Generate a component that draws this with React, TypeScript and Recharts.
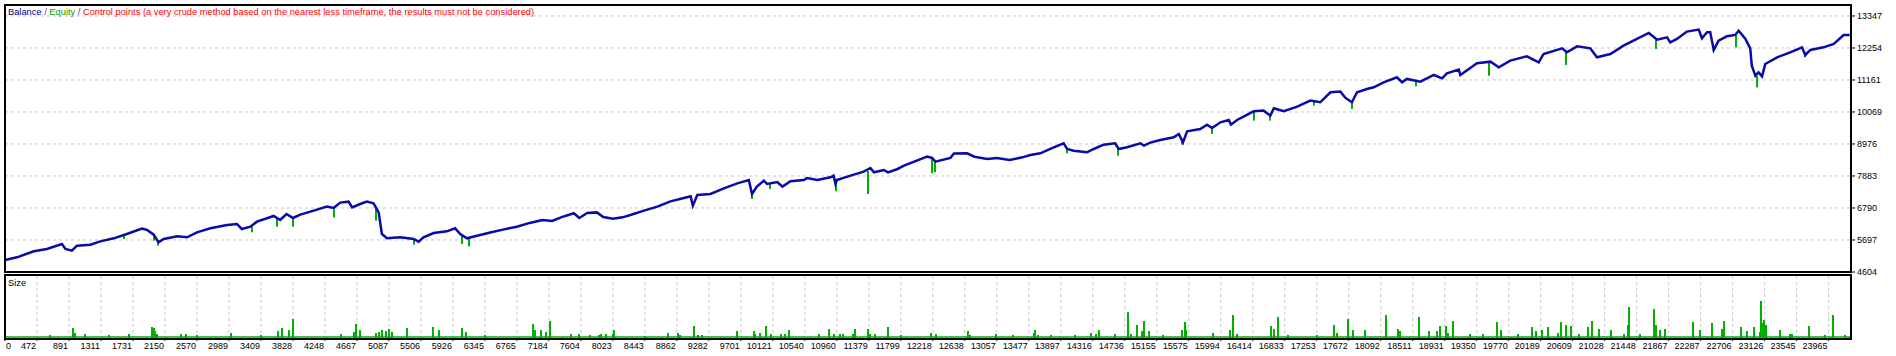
import React from "react";
import {
  ComposedChart,
  Line,
  Bar,
  XAxis,
  YAxis,
  CartesianGrid,
  ReferenceLine,
} from "recharts";

// x positions are in grid steps (one step per tick label)
const X_LABELS = [
  "0", "472", "891", "1311", "1731", "2150", "2570", "2989", "3409", "3828",
  "4248", "4667", "5087", "5506", "5926", "6345", "6765", "7184", "7604", "8023",
  "8443", "8862", "9282", "9701", "10121", "10540", "10960", "11379", "11799", "12218",
  "12638", "13057", "13477", "13897", "14316", "14736", "15155", "15575", "15994", "16414",
  "16833", "17253", "17672", "18092", "18511", "18931", "19350", "19770", "20189", "20609",
  "21028", "21448", "21867", "22287", "22706", "23126", "23545", "23965",
];
const Y_TICKS = [4604, 5697, 6790, 7883, 8976, 10069, 11161, 12254, 13347];
const X_MAX = 57.7;
const Y_MIN = 4604;
const Y_MAX = 13722;

const BALANCE_U = [
  0, 0.375, 0.9, 1.31, 1.78, 1.89, 2.09, 2.25, 2.67, 2.98, 3.4, 3.81, 4.28, 4.44, 4.65, 4.8,
  4.96, 5.38, 5.69, 6.0, 6.42, 6.94, 7.25, 7.4, 7.67, 7.875, 8.4, 8.6, 8.8, 9.0, 9.23, 9.65,
  10.06, 10.27, 10.48, 10.74, 10.85, 11.1, 11.31, 11.52, 11.68, 11.78, 11.94, 12.35, 12.77,
  12.93, 13.08, 13.4, 13.81, 14.07, 14.23, 14.44, 14.85, 15.2, 15.6, 16.0, 16.4, 16.8, 17.1,
  17.4, 17.78, 17.95, 18.2, 18.5, 18.7, 19.0, 19.3, 19.55, 19.97, 20.39, 20.8, 21.22, 21.43,
  21.5, 21.64, 22.05, 22.47, 22.89, 23.25, 23.35, 23.5, 23.72, 23.82, 24.14, 24.3, 24.55,
  24.97, 25.07, 25.39, 25.8, 25.9, 25.96, 26.0, 26.43, 26.84, 27.05, 27.16, 27.47, 27.6,
  27.9, 28.1, 28.5, 28.82, 28.98, 29.08, 29.55, 29.66, 30.07, 30.3, 30.7, 31.0, 31.4, 31.8,
  32.05, 32.36, 32.78, 33.09, 33.2, 33.4, 33.82, 34.03, 34.34, 34.7, 34.81, 35.07, 35.49,
  35.6, 35.8, 36.11, 36.53, 36.69, 36.82, 36.95, 37.36, 37.57, 37.73, 37.99, 38.25, 38.32,
  38.51, 39.03, 39.34, 39.55, 39.66, 39.97, 40.39, 40.8, 41.11, 41.43, 41.74, 41.9, 42.1,
  42.26, 42.57, 42.78, 43.09, 43.51, 43.67, 43.82, 44.24, 44.66, 44.92, 45.07, 45.44, 45.49,
  46.01, 46.43, 46.69, 47.05, 47.57, 47.94, 48.09, 48.67, 48.82, 49.14, 49.55, 49.76, 50.18,
  50.59, 51.01, 51.38, 51.64, 51.95, 52.05, 52.26, 52.57, 52.94, 53.04, 53.2, 53.3, 53.41,
  53.56, 53.82, 54.08, 54.19, 54.4, 54.55, 54.6, 54.71, 54.81, 54.92, 55.02, 55.39, 55.8,
  56.17, 56.27, 56.43, 56.84, 57.16, 57.47, 57.66,
];
const BALANCE = [
  5014, 5105, 5310, 5390, 5560, 5390, 5333, 5503, 5537, 5651, 5754, 5902, 6084, 6039, 5879, 5617,
  5731, 5822, 5788, 5959, 6096, 6210, 6244, 6073, 6153, 6323, 6517, 6380, 6585, 6449, 6563, 6699,
  6836, 6790, 6973, 7007, 6813, 6927, 7007, 6950, 6642, 5902, 5754, 5788, 5731,
  5640, 5788, 5936, 5993, 6096, 5902, 5754, 5868, 5960, 6060, 6150, 6280, 6380, 6350,
  6480, 6610, 6450, 6620, 6640, 6480, 6420, 6470, 6550, 6698, 6835, 7017, 7131, 7188,
  6870, 7234, 7268, 7462, 7632, 7746, 7268, 7519, 7724, 7610, 7678, 7519, 7701,
  7746, 7815, 7746, 7837, 7894, 7610, 7746, 7894, 8031, 8156, 8008, 8088, 8008,
  8122, 8236, 8407, 8544, 8498, 8373, 8498, 8650, 8657, 8540, 8460, 8500, 8430, 8520,
  8600, 8657, 8862, 9000, 8805, 8748, 8691, 8805, 8953, 9000, 8805, 8862, 9000,
  8919, 9022, 9113, 9204, 9318, 9033, 9409, 9489, 9637, 9523, 9716, 9796, 9637,
  9796, 10092, 10115, 9944, 10195, 10092, 10252, 10457, 10400, 10741, 10764, 10548, 10400,
  10741, 10855, 10912, 11083, 11254, 11083, 11197, 11104, 11332, 11218, 11389, 11514, 11332,
  11731, 11787, 11594, 11822, 11970, 11765, 12049, 12243, 12106, 12311, 12243, 11935, 12049,
  12334, 12562, 12767, 12539, 12619, 12448, 12562, 12813, 12881, 12585, 12790, 12790, 12186,
  12505, 12653, 12699, 12847, 12562, 12243, 11651, 11309, 11423, 11286, 11708, 11935, 12106,
  12277, 12015, 12186, 12277, 12391, 12699, 12699,
];

// equity drops below balance (green spikes)
const EQUITY_DIP_U = [
  3.73, 4.65, 4.77, 7.72, 8.5, 9.0, 10.27, 11.6, 12.8, 14.3, 14.5, 23.35, 23.9, 25.96, 26.99,
  28.98, 29.08, 33.2, 34.8, 36.8, 37.73, 39.05, 39.55, 40.9, 42.1, 44.1, 46.4, 48.8, 51.6,
  53.4, 54.1, 54.75, 56.27,
];
const EQUITY_DIP_LOW = [
  5731, 5674, 5503, 5959, 6153, 6153, 6471, 6358, 5537, 5560, 5480, 7097, 7439, 7359, 7268,
  7974, 8008, 8657, 8577, 8953, 9318, 9773, 9773, 10286, 10172, 10944, 11309, 11674, 12220,
  12163, 12277, 10910, 11935,
];
const EQUITY_DIP_HIGH = [
  5880, 5880, 5650, 6160, 6450, 6449, 6790, 6800, 5700, 5850, 5760, 7300, 7620, 7620, 8050,
  8500, 8380, 8805, 8805, 9040, 9520, 10090, 9950, 10430, 10400, 11150, 11780, 12100, 12540,
  12190, 12700, 11300, 12015,
];

// lot size per trade
const SIZE_U = [
  1.4, 2.12, 2.2, 2.5, 3.26, 3.87, 4.6, 4.65, 4.7, 4.75, 5.5, 5.65, 6.0, 7.06, 8.0, 8.52, 8.65,
  8.88, 9.0, 10.5, 10.9, 10.98, 11.1, 11.6, 11.7, 11.8, 11.9, 12.0, 12.1, 12.56, 13.37, 13.58,
  14.3, 14.4, 15.0, 16.5, 16.58, 16.75, 16.9, 17.05, 17.7, 17.95, 18.3, 18.56, 18.63, 18.8,
  19.0, 19.05, 20.0, 20.72, 21.05, 21.1, 21.53, 21.65, 21.8, 22.87, 23.4, 23.45, 23.6, 23.78,
  23.95, 24.25, 24.38, 24.5, 25.43, 25.77, 25.9, 26.1, 26.2, 26.5, 26.56, 26.99, 27.05, 27.2,
  27.61, 28.0, 28.95, 29.1, 30.09, 30.18, 30.99, 31.5, 32.15, 32.2, 32.3, 32.7, 33.45, 33.95,
  34.1, 34.2, 34.7, 35.1, 35.2, 35.4, 35.53, 35.6, 35.75, 36.2, 36.8, 36.87, 36.93, 37.75,
  38.3, 38.37, 38.5, 39.56, 39.66, 39.8, 40.1, 41.0, 41.55, 41.65, 41.99, 42.15, 42.5, 43.17,
  43.55, 43.6, 44.2, 44.5, 44.75, 44.84, 45.04, 45.1, 45.27, 45.8, 46.2, 46.65, 46.75, 47.3,
  47.73, 47.87, 48.05, 48.23, 48.55, 48.65, 48.8, 48.95, 49.2, 49.48, 49.6, 49.82, 50.2, 50.6,
  50.73, 50.77, 51.1, 51.55, 51.6, 51.72, 51.9, 52.75, 52.99, 53.35, 53.67, 53.74, 54.26,
  54.45, 54.68, 54.86, 54.9, 54.95, 54.99, 55.03, 55.47, 55.8, 55.85, 56.38, 56.9, 57.14, 57.5,
];
const SIZE_LOTS = [
  0.3, 1.0, 0.5, 0.4, 0.3, 0.4, 1.1, 1.0, 0.7, 0.4, 0.4, 0.4, 0.3, 0.5, 0.3, 0.7, 1.0,
  0.8, 1.9, 0.4, 0.6, 1.4, 0.8, 0.5, 0.6, 0.8, 0.7, 0.9, 0.6, 1.0, 1.1, 0.8,
  1.0, 0.6, 0.3, 1.4, 0.8, 0.8, 0.6, 1.7, 0.4, 0.4, 0.3, 0.3, 0.4, 0.4,
  0.4, 0.8, 0.2, 0.5, 0.5, 0.3, 1.2, 0.3, 0.3, 0.7, 0.7, 0.4, 0.5, 1.2,
  0.4, 0.4, 0.4, 0.8, 0.4, 0.9, 0.4, 0.4, 0.4, 0.4, 0.9, 0.9, 0.4, 0.4,
  1.1, 0.3, 0.5, 0.4, 0.7, 0.3, 0.4, 0.3, 0.5, 0.8, 0.3, 0.3, 0.3, 0.5,
  0.4, 0.8, 0.4, 2.6, 0.4, 1.3, 0.7, 1.7, 0.7, 0.3, 0.8, 1.6, 0.8, 0.5,
  0.8, 2.3, 0.4, 1.2, 0.9, 2.1, 0.3, 0.3, 1.3, 0.5, 1.9, 0.8, 0.8, 2.3,
  0.9, 0.7, 2.1, 0.7, 0.7, 1.2, 1.2, 0.5, 1.7, 0.4, 0.4, 1.6, 0.8, 0.4,
  1.1, 0.7, 0.8, 1.1, 0.5, 1.6, 1.3, 1.2, 0.4, 1.1, 1.7, 0.9, 0.8, 0.4,
  1.3, 3.1, 0.4, 2.9, 1.3, 0.8, 0.9, 1.6, 0.8, 1.5, 0.9, 1.7, 1.1,
  0.7, 1.1, 0.6, 3.7, 1.5, 1.8, 1.3, 0.8, 0.4, 0.4, 1.2, 0.3, 2.3, 0.3,
];
const MIN_LOT = 0.1;
const SIZE_MAX = 6.2;

const BALANCE_COLOR = "#0A0AAA";
const EQUITY_COLOR = "#00B000";
const GRID_COLOR = "#C8C8C8";
const FONT = "Liberation Sans, Arial, sans-serif";

const X_TICKS = X_LABELS.map((_, i) => i);

type Row = { u: number; balance?: number; spike?: [number, number] };

const mainData: Row[] = [
  ...BALANCE_U.map((u, i) => ({ u, balance: BALANCE[i] })),
  ...EQUITY_DIP_U.map((u, i) => ({
    u,
    spike: [EQUITY_DIP_LOW[i], EQUITY_DIP_HIGH[i]] as [number, number],
  })),
].sort((a, b) => a.u - b.u);

const sizeData = SIZE_U.map((u, i) => ({ u, size: SIZE_LOTS[i] }));

// thin vertical stick centred on the bar's x, height from the library
function Stick(props: any) {
  const { x, y, width, height } = props;
  if (height == null || isNaN(height)) return null;
  const cx = x + (width || 0) / 2;
  return (
    <rect
      x={Math.round(cx) - 1}
      y={y}
      width={2}
      height={Math.max(height, 1)}
      fill={EQUITY_COLOR}
    />
  );
}

function XTick(props: any) {
  const { x, y, payload } = props;
  const i = payload.value as number;
  const first = i === 0;
  return (
    <text
      x={first ? x + 1 : x - 1}
      y={y}
      dy="0.71em"
      textAnchor={first ? "start" : "end"}
      fill="#000"
      fontSize={9}
      fontFamily={FONT}
    >
      {X_LABELS[i]}
    </text>
  );
}

const panelBorder: React.CSSProperties = {
  position: "absolute",
  left: 4,
  width: 1848,
  border: "2px solid #000",
  boxSizing: "border-box",
  pointerEvents: "none",
};

export default function App() {
  return (
    <div
      style={{
        position: "absolute",
        left: 0,
        top: 0,
        width: 1896,
        height: 356,
        background: "#fff",
        overflow: "hidden",
        fontFamily: FONT,
      }}
    >
      <div style={{ position: "absolute", left: 0, top: 0 }}>
        <ComposedChart
          width={1896}
          height={280}
          data={mainData}
          margin={{ top: 5, right: 0, bottom: 7, left: 5 }}
        >
          <CartesianGrid stroke={GRID_COLOR} strokeDasharray="3 3" />
          <XAxis
            dataKey="u"
            type="number"
            domain={[0, X_MAX]}
            ticks={X_TICKS}
            allowDataOverflow
            height={1}
            tick={false}
            tickLine={false}
            axisLine={false}
          />
          <YAxis
            orientation="right"
            width={45}
            type="number"
            domain={[Y_MIN, Y_MAX]}
            ticks={Y_TICKS}
            interval={0}
            allowDataOverflow
            axisLine={false}
            tickLine={{ stroke: "#000" }}
            tickSize={4}
            tickMargin={2}
            tick={{ fill: "#000", fontSize: 9, fontFamily: FONT }}
          />
          <Bar
            dataKey="spike"
            fill={EQUITY_COLOR}
            barSize={2}
            shape={<Stick />}
            isAnimationActive={false}
          />
          <Line
            dataKey="balance"
            type="linear"
            stroke={BALANCE_COLOR}
            strokeWidth={2.5}
            dot={false}
            connectNulls
            isAnimationActive={false}
          />
        </ComposedChart>
      </div>

      <div style={{ position: "absolute", left: 0, top: 272 }}>
        <ComposedChart
          width={1896}
          height={84}
          data={sizeData}
          margin={{ top: 4, right: 0, bottom: 0, left: 5 }}
        >
          <CartesianGrid
            stroke={GRID_COLOR}
            strokeDasharray="3 3"
            horizontal={false}
          />
          <XAxis
            dataKey="u"
            type="number"
            domain={[0, X_MAX]}
            ticks={X_TICKS}
            interval={0}
            allowDataOverflow
            height={18}
            axisLine={false}
            tickLine={{ stroke: "#000" }}
            tickSize={3}
            tickMargin={2}
            tick={<XTick />}
          />
          <YAxis
            orientation="right"
            width={45}
            type="number"
            domain={[0, SIZE_MAX]}
            allowDataOverflow
            tick={false}
            tickLine={false}
            axisLine={false}
          />
          <ReferenceLine y={MIN_LOT} stroke={EQUITY_COLOR} strokeWidth={1.5} />
          <Bar
            dataKey="size"
            fill={EQUITY_COLOR}
            barSize={2}
            shape={<Stick />}
            isAnimationActive={false}
          />
        </ComposedChart>
      </div>

      <div style={{ ...panelBorder, top: 4, height: 269 }} />
      <div style={{ ...panelBorder, top: 274, height: 66 }} />

      <div
        style={{
          position: "absolute",
          left: 8,
          top: 7,
          fontSize: 9.3,
          lineHeight: "11px",
          whiteSpace: "nowrap",
        }}
      >
        <span style={{ color: "#000080" }}>Balance</span>
        <span style={{ color: "#404080" }}> / </span>
        <span style={{ color: "#00A000" }}>Equity</span>
        <span style={{ color: "#404080" }}> / </span>
        <span style={{ color: "#FF0000" }}>
          Control points (a very crude method based on the nearest less
          timeframe, the results must not be considered)
        </span>
      </div>
      <div
        style={{
          position: "absolute",
          left: 8,
          top: 278,
          fontSize: 9.3,
          lineHeight: "11px",
          color: "#000",
        }}
      >
        Size
      </div>
    </div>
  );
}
